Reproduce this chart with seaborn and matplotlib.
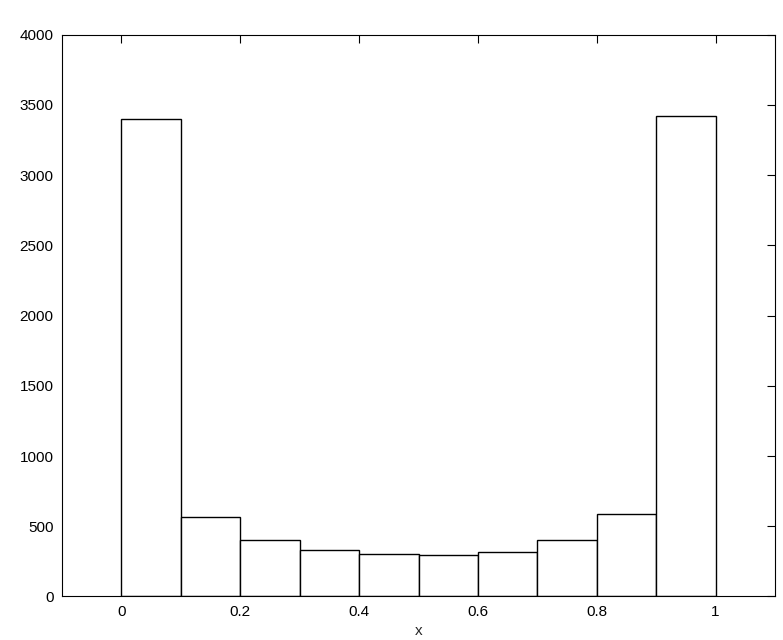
import numpy as np
import pandas as pd
import seaborn as sns
import matplotlib
matplotlib.use("Agg")
import matplotlib.pyplot as plt

bin_edges = [0.0, 0.1, 0.2, 0.3, 0.4, 0.5, 0.6, 0.7, 0.8, 0.9, 1.0]
bin_centers = [0.05, 0.15, 0.25, 0.35, 0.45, 0.55, 0.65, 0.75, 0.85, 0.95]
counts = [3396, 564, 400, 329, 300, 293, 317, 400, 587, 3418]
x_ticks = [0, 0.2, 0.4, 0.6, 0.8, 1]
x_tick_labels = ["0", "0.2", "0.4", "0.6", "0.8", "1"]
y_ticks = [0, 500, 1000, 1500, 2000, 2500, 3000, 3500, 4000]

sns.set_style("white")
plt.rcParams['font.family'] = ['Liberation Sans', 'DejaVu Sans']

df = pd.DataFrame({"x": bin_centers, "count": counts})

fig = plt.figure(figsize=(7.83, 6.4), dpi=100)
ax = fig.add_axes([0.0792, 0.068, 0.9106, 0.878])
sns.histplot(data=df, x="x", weights="count", bins=bin_edges, ax=ax,
             color="white", edgecolor="black", linewidth=1.0, alpha=1.0)

ax.set_xlim(-0.1, 1.1)
ax.set_ylim(0, 4000)
ax.set_xticks(x_ticks)
ax.set_xticklabels(x_tick_labels)
ax.set_yticks(y_ticks)
ax.set_xlabel("x", fontsize=11, labelpad=4)
ax.set_ylabel("")
ax.tick_params(direction="in", top=True, right=True, length=6, width=0.8,
               labelsize=11, colors="black", pad=6)
for s in ax.spines.values():
    s.set_visible(True)
    s.set_color("black")
    s.set_linewidth(0.8)

fig.savefig("out.png", dpi=100, facecolor="white")
